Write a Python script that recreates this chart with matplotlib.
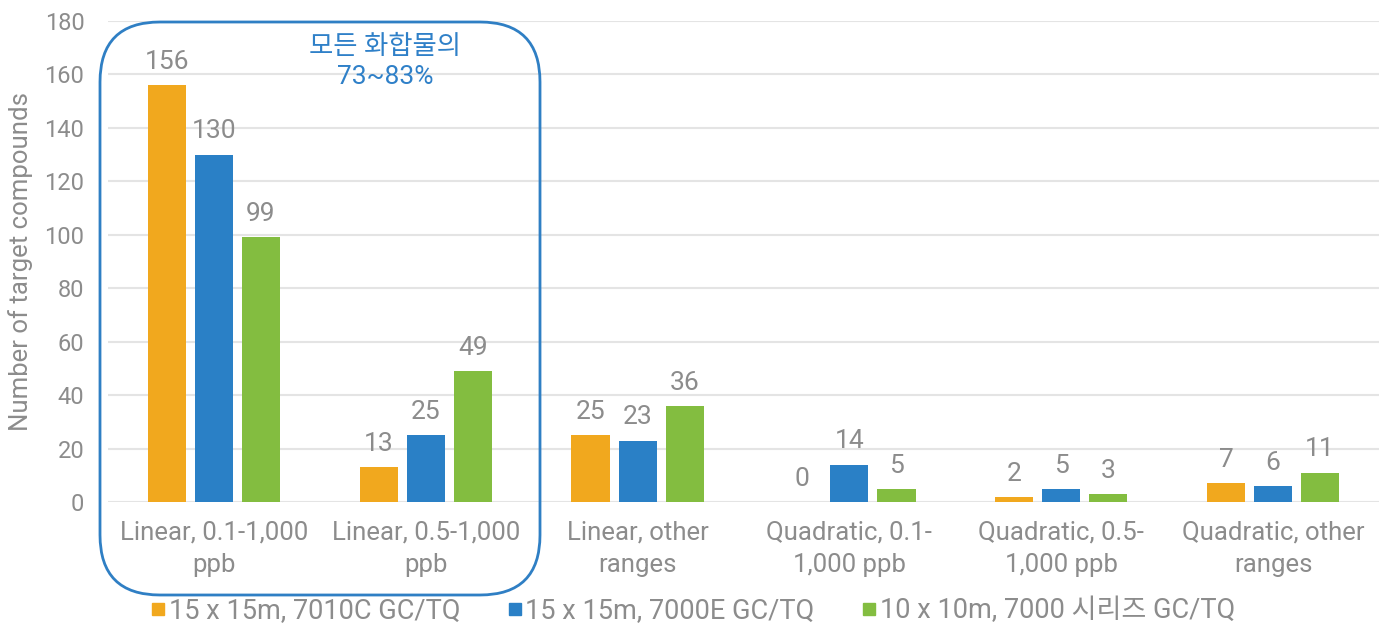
import numpy as np
import matplotlib.pyplot as plt
from matplotlib.patches import FancyBboxPatch
from matplotlib.lines import Line2D

plt.rcParams['font.family'] = ['Roboto', 'Noto Sans CJK KR', 'DejaVu Sans']

categories = ["Linear, 0.1-1,000\nppb", "Linear, 0.5-1,000\nppb", "Linear, other\nranges",
              "Quadratic, 0.1-\n1,000 ppb", "Quadratic, 0.5-\n1,000 ppb", "Quadratic, other\nranges"]
series_names = ["15 x 15m, 7010C GC/TQ", "15 x 15m, 7000E GC/TQ", "10 x 10m, 7000 시리즈 GC/TQ"]
s_7010c = [156, 13, 25, 0, 2, 7]
s_7000e = [130, 25, 23, 14, 5, 6]
s_7000 = [99, 49, 36, 5, 3, 11]
colors = ["#F1A81E", "#2A80C6", "#83BD40"]
grey = "#8C8C8C"

fig = plt.figure(figsize=(13.85, 6.28), dpi=100)
ax = fig.add_axes([108 / 1385, 1 - 502 / 628, 1271 / 1385, 481 / 628])

x = np.arange(len(categories))
w = 0.18
offs = [-0.222, 0, 0.222]
for vals, off, c in zip([s_7010c, s_7000e, s_7000], offs, colors):
    bars = ax.bar(x + off, vals, width=w, color=c, zorder=3)
    for b, v in zip(bars, vals):
        ax.annotate(str(v), (b.get_x() + b.get_width() / 2, v), xytext=(0, 8),
                    textcoords="offset points", ha="center", va="bottom",
                    fontsize=19, color=grey)

ax.set_xlim(-0.5, len(categories) - 0.5)
ax.set_ylim(0, 180)
ax.set_yticks(np.arange(0, 181, 20))
ax.yaxis.grid(True, color="#E4E4E4", lw=1.5, zorder=0)
ax.set_axisbelow(True)
for s in ax.spines.values():
    s.set_visible(False)
ax.tick_params(axis="both", length=0, labelsize=17, colors=grey, pad=17)
ax.tick_params(axis="x", labelsize=18.5, pad=13)
ax.set_xticks(x)
ax.set_xticklabels(categories, linespacing=1.45)
ax.set_ylabel("Number of target compounds", fontsize=18.5, color=grey)
ax.yaxis.set_label_coords(-0.059, 0.5)

# rounded highlight box around the two linear 0.1/0.5 groups
box = FancyBboxPatch((1.00, 0.33), 4.40, 5.73, boxstyle="round,pad=0,rounding_size=0.6",
                     transform=fig.dpi_scale_trans, fill=False, ec="#2F7FC4", lw=2,
                     clip_on=False)
fig.add_artist(box)
fig.text(385 / 1385, 1 - 62 / 628, "모든 화합물의\n73~83%", ha="center", va="center",
         fontsize=19, color="#2F80C8", linespacing=1.35)

handles = [Line2D([], [], ls="none", marker="s", ms=9, color=c) for c in colors]
fig.legend(handles, series_names, loc="center", bbox_to_anchor=(0.5, 1 - 611 / 628),
           ncol=3, frameon=False, fontsize=19.5, labelcolor=grey, handletextpad=0.1,
           columnspacing=1.7, handlelength=0.6)

fig.savefig("out.png", dpi=100)
